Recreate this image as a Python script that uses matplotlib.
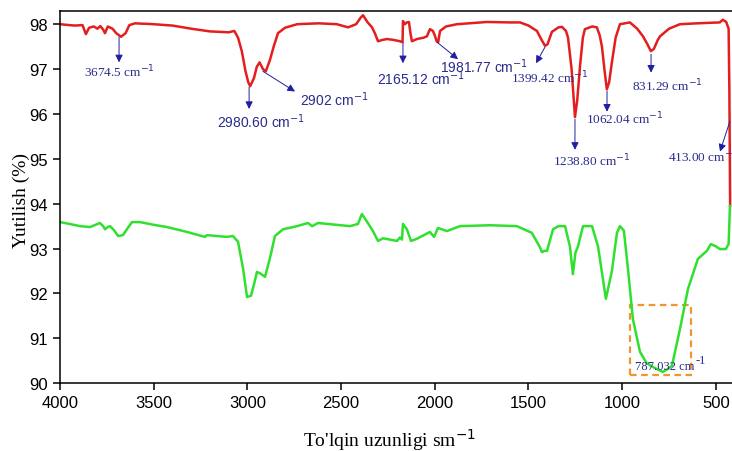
import matplotlib
matplotlib.use("Agg")
import matplotlib.pyplot as plt
from matplotlib.patches import Rectangle

# upper spectrum (red)
red_wn = [4000, 3950, 3920, 3880, 3862, 3845, 3820, 3800, 3785, 3770, 3760, 3745, 3720, 3700,
          3674.5, 3650, 3630, 3600, 3500, 3400, 3300, 3200, 3100, 3070, 3050, 3030, 3010, 2995,
          2985, 2965, 2950, 2935, 2917, 2902, 2880, 2860, 2837, 2800, 2735, 2620, 2522, 2463,
          2420, 2395, 2383, 2360, 2335, 2320, 2303, 2280, 2255, 2220, 2186, 2172, 2170, 2160,
          2149, 2138, 2130, 2122, 2095, 2060, 2042, 2026, 2010, 2000, 1990, 1982, 1972, 1940,
          1882, 1722, 1600, 1545, 1500, 1455, 1430, 1412, 1399, 1375, 1340, 1321, 1300, 1289,
          1270, 1252, 1240, 1225, 1210, 1199, 1160, 1135, 1120, 1108, 1095, 1082, 1070, 1055,
          1035, 1012, 959, 920, 889, 865, 847, 831, 810, 798, 750, 692, 600, 479, 463, 445,
          432, 428, 424]
red_T = [98.0, 97.98, 97.97, 97.98, 97.78, 97.92, 97.95, 97.9, 97.96, 97.88, 97.8, 97.95, 97.9, 97.8,
         97.72, 97.8, 97.98, 98.02, 98.0, 97.97, 97.9, 97.84, 97.82, 97.85, 97.7, 97.4, 96.95, 96.7,
         96.62, 96.8, 97.05, 97.15, 97.0, 96.95, 97.2, 97.5, 97.8, 97.92, 98.0, 98.02, 98.0, 97.93,
         98.0, 98.15, 98.2, 98.05, 97.93, 97.8, 97.62, 97.65, 97.67, 97.65, 97.62, 97.6, 98.07, 98.0,
         98.04, 98.05, 97.8, 97.62, 97.67, 97.7, 97.73, 97.89, 97.85, 97.75, 97.62, 97.6, 97.85, 97.95,
         98.0, 98.05, 98.04, 98.04, 97.97, 97.85, 97.65, 97.52, 97.55, 97.83, 97.93, 97.94, 97.85, 97.7,
         97.0, 95.93, 96.3, 97.07, 97.7, 97.89, 97.95, 97.93, 97.75, 97.5, 97.0, 96.55, 96.7, 97.15,
         97.7, 98.0, 98.04, 97.9, 97.73, 97.55, 97.4, 97.45, 97.65, 97.73, 97.9, 98.0, 98.02, 98.04, 98.1, 98.05,
         97.9, 96.5, 93.95]

# lower spectrum (green)
green_wn = [4000, 3950, 3893, 3840, 3787, 3770, 3760, 3745, 3733, 3710, 3690, 3664, 3640, 3616,
            3573, 3500, 3429, 3322, 3226, 3216, 3109, 3077, 3050, 3023, 3002, 2981, 2965, 2949,
            2933, 2906, 2879, 2853, 2810, 2735, 2677, 2655, 2623, 2452, 2410, 2389, 2362, 2330,
            2303, 2276, 2202, 2186, 2175, 2170, 2149, 2127, 2095, 2026, 2004, 1983, 1935, 1866,
            1706, 1562, 1482, 1439, 1428, 1415, 1401, 1369, 1340, 1305, 1279, 1263, 1250, 1236,
            1209, 1161, 1129, 1087, 1055, 1028, 1012, 991, 969, 943, 905, 870, 836, 783, 735,
            692, 649, 596, 548, 527, 500, 479, 447, 432, 425]
green_T = [93.59, 93.55, 93.5, 93.48, 93.57, 93.5, 93.43, 93.48, 93.5, 93.4, 93.28, 93.3, 93.45, 93.59,
           93.59, 93.53, 93.48, 93.37, 93.26, 93.3, 93.26, 93.28, 93.15, 92.55, 91.92, 91.95, 92.2, 92.48,
           92.45, 92.37, 92.8, 93.28, 93.43, 93.5, 93.57, 93.5, 93.57, 93.5, 93.55, 93.77, 93.6, 93.39,
           93.17, 93.23, 93.17, 93.25, 93.2, 93.55, 93.43, 93.17, 93.22, 93.37, 93.26, 93.46, 93.39, 93.5,
           93.52, 93.5, 93.35, 93.03, 92.92, 92.95, 92.95, 93.43, 93.5, 93.5, 93.05, 92.43, 92.9, 93.05,
           93.5, 93.5, 93.05, 91.88, 92.5, 93.35, 93.5, 93.4, 92.54, 91.43, 90.7, 90.45, 90.36, 90.25, 90.38,
           91.2, 92.1, 92.77, 92.95, 93.1, 93.05, 92.99, 92.99, 93.1, 93.95]

# peak labels: text, arrow start, arrow end, text pos, font
peak_labels = ["3674.5 cm$^{-1}$", "2980.60 cm$^{-1}$", "2902 cm$^{-1}$", "2165.12 cm$^{-1}$",
               "1981.77 cm$^{-1}$", "1399.42 cm$^{-1}$", "1238.80 cm$^{-1}$", "1062.04 cm$^{-1}$",
               "831.29 cm$^{-1}$", "413.00 cm$^{-1}$"]
arrow_from = [(3685, 97.71), (2991, 96.6), (2917, 96.95), (2170, 97.58), (1988, 97.6),
              (1412, 97.49), (1252, 95.88), (1081, 96.51), (846, 97.33), (425, 95.84)]
arrow_to = [(3685, 97.15), (2991, 96.11), (2746, 96.5), (2170, 97.13), (1876, 97.22),
            (1460, 97.13), (1252, 95.2), (1081, 96.05), (846, 96.92), (478, 95.16)]
text_pos = [(3685, 96.95), (2927, 95.84), (2719, 96.33), (2074, 96.8), (1972, 97.07),
            (1385, 96.82), (1161, 94.97), (985, 95.9), (761, 96.65), (756, 95.06)]
text_ha = ["center", "center", "left", "center", "left", "center", "center", "center", "center", "left"]
text_serif = [True, False, False, False, False, True, True, True, True, True]

navy = "#2b2b8c"
arrow_col = "#1f1fa0"

fig = plt.figure(figsize=(7.32, 4.52), dpi=100)
ax = fig.add_axes([0.082, 0.150, 0.918, 0.823])

ax.plot(red_wn, red_T, color="#e41e1e", lw=1.8)
ax.plot(green_wn, green_T, color="#2fe02f", lw=1.8)

for lab, a0, a1, tp, ha, serif in zip(peak_labels, arrow_from, arrow_to, text_pos, text_ha, text_serif):
    ax.annotate("", xy=a1, xytext=a0,
                arrowprops=dict(arrowstyle="-|>", color=arrow_col, lw=0.7, mutation_scale=11,
                                shrinkA=0, shrinkB=0))
    if serif:
        ax.text(tp[0], tp[1], lab, ha=ha, va="center", color=navy, fontsize=9.5,
                family="Liberation Serif", clip_on=False)
    else:
        ax.text(tp[0], tp[1], lab, ha=ha, va="center", color=navy, fontsize=10,
                family="Liberation Sans", clip_on=False)

# highlighted broad band
ax.add_patch(Rectangle((958, 90.18), 633 - 958, 91.74 - 90.18, fill=False,
                       edgecolor="#f0962e", lw=1.6, ls=(0, (3, 2))))
ax.text(932, 90.38, "787.032 cm", ha="left", va="center", color=navy, fontsize=9,
        family="Liberation Serif")
ax.text(608, 90.52, "-1", ha="left", va="center", color=navy, fontsize=9,
        family="Liberation Serif")

ax.set_xlim(4000, 414)
ax.set_ylim(90, 98.29)
ax.set_xticks([4000, 3500, 3000, 2500, 2000, 1500, 1000, 500])
ax.set_yticks([90, 91, 92, 93, 94, 95, 96, 97, 98])
ax.spines["right"].set_visible(False)
for s in ["top", "left", "bottom"]:
    ax.spines[s].set_linewidth(1.1)
ax.tick_params(direction="out", length=5, width=1.1, labelsize=12)
for t in ax.get_xticklabels() + ax.get_yticklabels():
    t.set_family("Liberation Sans")

ax.set_ylabel("Yutilish (%)", family="Liberation Serif", fontsize=14)
ax.yaxis.set_label_coords(-0.045, 0.495)
ax.set_xlabel("To'lqin uzunligi sm$^{-1}$", family="Liberation Serif", fontsize=14)
ax.xaxis.set_label_coords(0.49, -0.115)

fig.savefig("out.png", dpi=100)
